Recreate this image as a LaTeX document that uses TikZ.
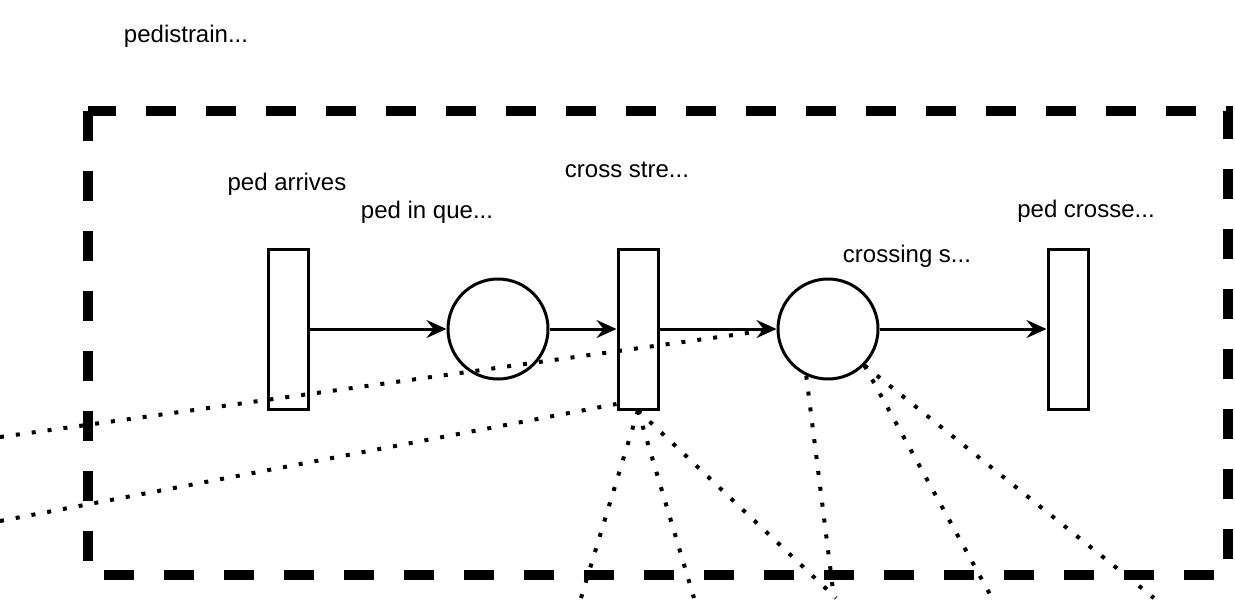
\documentclass[tikz,border=0pt]{standalone}
\usepackage{fontspec}
\setmainfont{Liberation Sans}
\usetikzlibrary{arrows.meta}

\begin{document}
\begin{tikzpicture}
  [x=0.5pt,y=-0.5pt,line width=1.5pt,
   font=\fontsize{12}{14}\selectfont,
   transN/.style={draw,rectangle,inner sep=0,minimum width=20pt,minimum height=80pt},
   placeN/.style={draw,circle,inner sep=0,minimum size=50pt},
   lblN/.style={anchor=base,inner sep=0},
   flow/.style={-{Stealth[length=10pt,width=9pt,inset=3.5pt]}},
   link/.style={line width=2pt,dash pattern=on 2pt off 6pt},
   frame/.style={line width=5pt,dash pattern=on 15pt off 15pt},
  ]
 \useasboundingbox (0,0) rectangle (1235,600);

 % group box
 \draw[frame] (88,111) rectangle (1228,575);

 % places and transitions
 \node[transN] (ta) at  (288,329) {};
 \node[placeN] (pq) at  (498,329) {};
 \node[transN] (tc) at  (638,329) {};
 \node[placeN] (pc) at  (828,329) {};
 \node[transN] (td) at (1068,329) {};

 % labels
 \node[lblN] (lnet) at  (186,42)  {pedistrain...};
 \node[lblN] (la)   at  (287,190) {ped arrives};
 \node[lblN] (lq)   at  (427,218) {ped in que...};
 \node[lblN] (lc)   at  (627,177) {cross stre...};
 \node[lblN] (lpc)  at  (907,262) {crossing s...};
 \node[lblN] (ld)   at (1086,217) {ped crosse...};

 \draw[flow] (ta) -- (pq);
 \draw[flow] (pq) -- (tc);
 \draw[flow] (tc) -- (pc);
 \draw[flow] (pc) -- (td);

 % links leaving the box
 \coordinate (w1) at    (0,437);
 \coordinate (w2) at    (0,521);
 \coordinate (sa) at  (581,598);
 \coordinate (sb) at  (694,598);
 \coordinate (sc) at  (836,598);
 \coordinate (sd) at  (834,598);
 \coordinate (se) at  (992,598);
 \coordinate (sf) at (1154,598);

 \draw[link] (w1) -- (pc.west);
 \draw[link] (w2) -- (tc.254);
 \draw[link] (tc.south) -- (sa);
 \draw[link] (tc.south) -- (sb);
 \draw[link] (tc.south) -- (sc);
 \draw[link] (pc.245) -- (sd);
 \draw[link] (pc.-45) -- (se);
 \draw[link] (pc.-45) -- (sf);

\end{tikzpicture}
\end{document}
